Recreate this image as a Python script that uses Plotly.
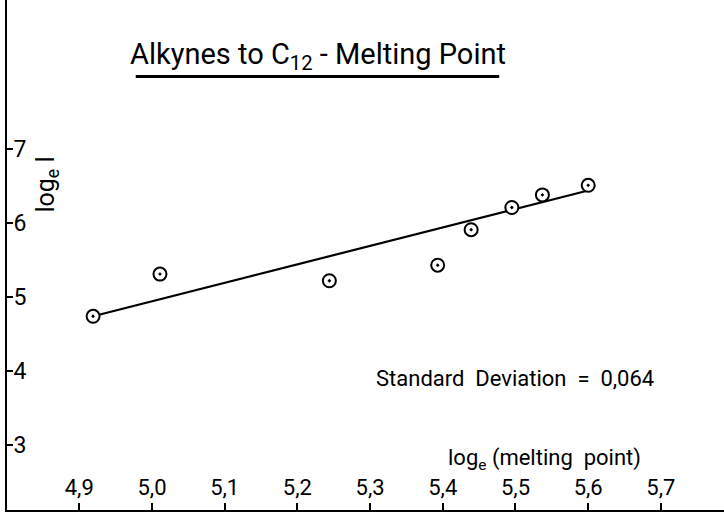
import plotly.graph_objects as go

# data
x_vals = [4.919, 5.011, 5.244, 5.393, 5.439, 5.495, 5.537, 5.600]
y_vals = [4.74, 5.31, 5.22, 5.43, 5.91, 6.21, 6.38, 6.51]
fit_x = [4.919, 5.600]
fit_y = [4.74, 6.44]
x_ticks = [4.9, 5.0, 5.1, 5.2, 5.3, 5.4, 5.5, 5.6, 5.7]
x_ticktext = ["4,9", "5,0", "5,1", "5,2", "5,3", "5,4", "5,5", "5,6", "5,7"]
y_ticks = [3, 4, 5, 6, 7]
y_ticktext = ["3", "4", "5", "6", "7"]

FONT = "Roboto, DejaVu Sans, sans-serif"

fig = go.Figure()
fig.add_trace(go.Scatter(x=fit_x, y=fit_y, mode="lines",
                         line=dict(color="black", width=2.2), showlegend=False))
fig.add_trace(go.Scatter(x=x_vals, y=y_vals, mode="markers",
                         marker=dict(symbol="circle-dot", size=13, color="white",
                                     line=dict(color="black", width=2)),
                         showlegend=False))

fig.update_layout(
    width=724, height=513,
    margin=dict(l=7, r=0, t=0, b=3),
    paper_bgcolor="white", plot_bgcolor="white",
    font=dict(family=FONT, color="black", size=22),
    xaxis=dict(range=[4.8006, 5.7868], showgrid=False, zeroline=False,
               showline=True, linecolor="black", linewidth=2,
               ticks="inside", ticklen=7, tickwidth=1.5, tickcolor="black",
               tickvals=x_ticks, ticktext=x_ticktext,
               ticklabelposition="inside", ticklabelstandoff=5,
               tickfont=dict(size=22, family=FONT, color="black")),
    yaxis=dict(range=[2.122, 9.014], showgrid=False, zeroline=False,
               showline=True, linecolor="black", linewidth=2,
               ticks="inside", ticklen=6, tickwidth=1.5, tickcolor="black",
               tickvals=y_ticks, ticktext=y_ticktext,
               ticklabelposition="inside", ticklabelstandoff=2,
               tickfont=dict(size=23, family=FONT, color="black")),
)

ann = [
    dict(x=314, y=56, text="Alkynes to C<sub>12</sub> - Melting Point",
         font=dict(size=29, family=FONT, color="black")),
    dict(x=513, y=381, text="Standard  Deviation  =  0,064",
         font=dict(size=22, family=FONT, color="black")),
    dict(x=543, y=462, text="log<sub>e</sub> (melting  point)",
         font=dict(size=22, family=FONT, color="black")),
    dict(x=40, y=185, text="log<sub>e</sub> I", textangle=-90,
         font=dict(size=25, family=FONT, color="black")),
]
for a in ann:
    fig.add_annotation(x=a["x"] / 724, y=1 - a["y"] / 513, xref="paper", yref="paper",
                       text=a["text"], showarrow=False, font=a["font"],
                       textangle=a.get("textangle", 0),
                       xanchor="center", yanchor="middle")

# title underline
fig.add_shape(type="line", xref="paper", yref="paper",
              x0=130 / 724, x1=497 / 724, y0=1 - 77 / 513, y1=1 - 77 / 513,
              line=dict(color="black", width=3))

fig.write_html("out.html", config={"displayModeBar": False},
               post_script="document.body.style.margin='0';")
